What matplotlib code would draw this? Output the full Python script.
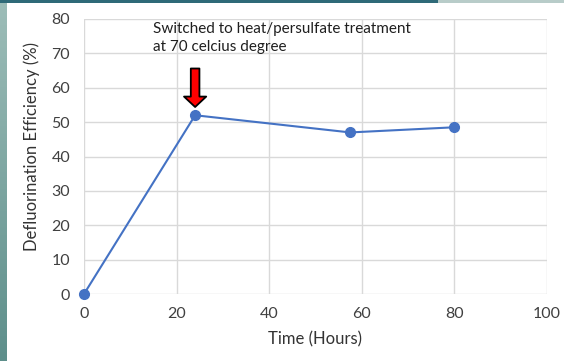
import numpy as np
import matplotlib.pyplot as plt
from matplotlib.colors import LinearSegmentedColormap

# time points (hours) and defluorination efficiency (%)
hours = [0, 24, 57.5, 80]
efficiency = [0, 52, 47, 48.5]
switch_hour = 24
note = "Switched to heat/persulfate treatment\nat 70 celcius degree"
x_ticks = [0, 20, 40, 60, 80, 100]
y_ticks = [0, 10, 20, 30, 40, 50, 60, 70, 80]

plt.rcParams['font.family'] = ['Lato', 'DejaVu Sans']

W, H = 564, 361
fig = plt.figure(figsize=(W / 100, H / 100), dpi=100)
fig.patch.set_facecolor('white')

# teal slide border on the left and top
bg = fig.add_axes([0, 0, 1, 1], zorder=-5)
bg.set_xlim(0, W)
bg.set_ylim(H, 0)
bg.axis('off')
grad = np.linspace(0, 1, 200).reshape(-1, 1)
teal = LinearSegmentedColormap.from_list('teal', ['#9dbdb8', '#5e8f8b'])
bg.imshow(grad, cmap=teal, extent=[0, 7, H, 0], aspect='auto')
bg.add_patch(plt.Rectangle((0, 0), 438, 2.5, color='#2f6a78', lw=0))
bg.add_patch(plt.Rectangle((438, 0), W - 438, 2.5, color='#b8ccc9', lw=0))

ax = fig.add_axes([84 / W, 1 - 294 / H, (547 - 84) / W, (294 - 19) / H])
ax.set_xlim(0, 100)
ax.set_ylim(0, 80)
ax.set_xticks(x_ticks)
ax.set_yticks(y_ticks)
ax.grid(True, color='#d9d9d9', lw=1)
ax.set_axisbelow(True)
for s in ax.spines.values():
    s.set_visible(False)
ax.tick_params(length=0, labelsize=11.5, colors='#404040')
ax.tick_params(axis='y', pad=10)
ax.tick_params(axis='x', pad=9)

ax.plot(hours, efficiency, color='#4472c4', lw=1.5, marker='o', ms=7,
        clip_on=False, zorder=3)

ax.set_xlabel('Time (Hours)', fontsize=12, color='#333333', labelpad=8)
ax.set_ylabel('Defluorination Efficiency (%)', fontsize=12, color='#333333', labelpad=4)
ax.yaxis.set_label_coords(-0.095, 0.536)

# red arrow marking the treatment switch
y_peak = efficiency[hours.index(switch_hour)]
ax.annotate('', xy=(switch_hour, y_peak + 2.4), xytext=(switch_hour, y_peak + 13.6),
            arrowprops=dict(arrowstyle='simple,head_length=0.75,head_width=1.6,tail_width=0.62',
                            mutation_scale=10, fc='#ff0000', ec='black', lw=1.3,
                            shrinkA=0, shrinkB=0))
ax.text(15, 79, note, fontsize=11, color='#1f1f1f', va='top', ha='left',
        linespacing=1.3)

fig.savefig('out.png', dpi=100)
